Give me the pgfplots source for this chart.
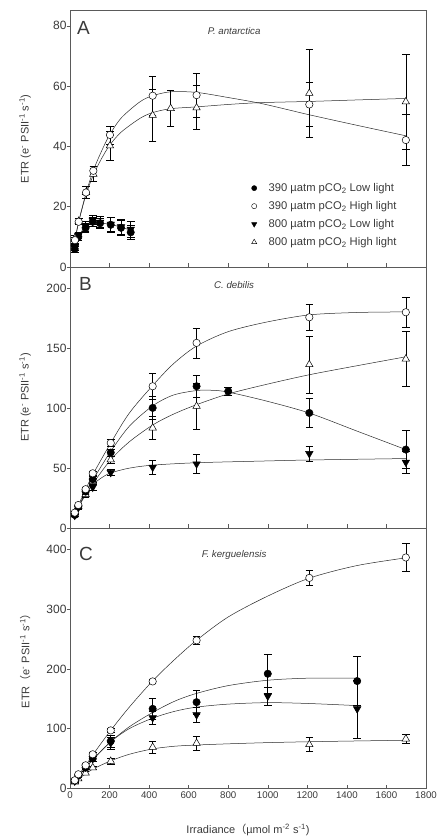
\documentclass[border=0pt]{standalone}
\usepackage{fontspec}
\setmainfont{Liberation Sans}
\newfontfamily\cjk{Noto Sans CJK SC}
\usepackage{pgfplots}
\pgfplotsset{compat=1.18}
\definecolor{framegray}{HTML}{5A5A5A}
\definecolor{textgray}{HTML}{3A3A3A}
\definecolor{curvecol}{HTML}{2A2A2A}
\pgfplotsset{
  panel/.style={scale only axis, width=356pt, xmin=0, xmax=1800,
    xtick={0,200,...,1800}, xtick pos=bottom, ytick pos=left,
    tick align=inside, major tick length=3.5pt,
    ytick style={xshift=-3.5pt},
    axis line style={draw=framegray, line width=0.6pt},
    tick style={framegray, line width=0.5pt},
    yticklabel style={font=\fontsize{12}{14}\selectfont, text=textgray},
    xticklabel style={font=\fontsize{9.7}{12}\selectfont, text=textgray},
    label style={font=\fontsize{11}{13}\selectfont, text=textgray},
    /pgf/number format/assume math mode=true,
    /pgf/number format/set thousands separator={},
    ylabel style={at={(axis description cs:-0.126,0.5)}, anchor=center},
  },
  cv/.style={no marks, smooth, tension=0.5, line width=0.5pt, curvecol, forget plot},
  s1/.style={only marks, forget plot, mark=*, mark size=3.7pt, mark options={draw=black, fill=black, line width=0.5pt}},
  s2/.style={only marks, forget plot, mark=*, mark size=3.7pt, mark options={draw=black, fill=white, line width=0.5pt}},
  s3/.style={only marks, forget plot, mark=triangle*, mark size=4.3pt, mark options={draw=black, fill=black, line width=0.5pt, rotate=180}},
  s4/.style={only marks, forget plot, mark=triangle*, mark size=4.3pt, mark options={draw=black, fill=white, line width=0.5pt}},
  eb/.style={/pgfplots/error bars/y dir=both, /pgfplots/error bars/y explicit,
    /pgfplots/error bars/error bar style={line width=0.6pt, black},
    /pgfplots/error bars/error mark options={rotate=90, mark size=3.8pt, line width=0.6pt, black}},
}
\newcommand{\panellabel}[1]{{\fontsize{19}{21}\selectfont\color{textgray}#1}}
\newcommand{\species}[1]{{\fontsize{9.7}{11}\selectfont\itshape\color{textgray}#1}}
\begin{document}
\begin{tikzpicture}
\path[use as bounding box] (0,0) rectangle (445pt,837pt);
% ---------------- Panel A ----------------
\begin{axis}[panel, at={(70pt,570pt)}, anchor=south west, height=256.3pt,
  ymin=0, ymax=85, ytick={0,20,...,80}, xticklabels={},
  ylabel={ETR (e\textsuperscript{-} PSII\textsuperscript{-1} s\textsuperscript{-1})},
  legend image code/.code={\path[draw=none, fill=none] (-6pt,0pt) (12.5pt,0pt); \draw[#1] plot coordinates {(0pt,0pt)};},
  legend style={draw=none, fill=none, at={(axis description cs:0.5,0.335)}, anchor=north west,
    font=\fontsize{11.2}{12}\selectfont, text=textgray, row sep=4.4pt, inner sep=0pt},
  legend cell align=left]
\addplot[cv] coordinates {(24,6)(42,10)(79,13.5)(115,14.6)(152,14.6)(206,14.1)(258,13.2)(307,12.2)};
\addplot[cv] coordinates {(25,8.5)(44,15)(81,24.5)(118,32)(160,38.5)(202,44)(260,49.5)(354,54.8)(418,56.8)(509,58.1)(640,57.9)(800,56.2)(961,54.3)(1112,52)(1208,50.5)(1450,47)(1699,43.5)};
\addplot[cv] coordinates {(25,9)(44,15)(81,24)(118,30.5)(160,36)(202,40.5)(260,44.8)(354,49.3)(418,51.2)(509,52.5)(640,53.1)(800,53.9)(961,54.5)(1208,54.9)(1450,55.4)(1699,55.9)};
\addplot[s3, eb] coordinates {(24,6.5)+-(0,1)(42,10.5)+-(0,1)(79,13.5)+-(0,1.5)(115,15.5)+-(0,1.5)(152,14.8)+-(0,2)(206,14.2)+-(0,2.3)(258,13.3)+-(0,2.5)(307,12.5)+-(0,2.5)};
\addplot[s1, eb] coordinates {(24,6)+-(0,1)(42,10)+-(0,1)(79,13)+-(0,1.5)(115,15)+-(0,1.5)(152,14.5)+-(0,1.5)(206,14)+-(0,2.5)(258,13)+-(0,2.5)(307,11.5)+-(0,2.3)};
\addplot[s4, eb] coordinates {(25,9.5)+-(0,1)(44,15.2)+-(0,1)(81,24.7)+-(0,2)(118,30.8)+-(0,2.5)(202,40.2)+-(0,4.8)(418,50.3)+-(0,8.6)(509,52.6)+-(0,5.9)(640,52.8)+-(0,7.3)(1210,57.6)+-(0,14.7)(1698,54.8)+-(0,15.7)};
\addplot[s2, eb] coordinates {(25,8.9)+-(0,1)(44,15)+-(0,1)(81,24.7)+-(0,2)(118,31.9)+-(0,1.5)(202,43.8)+-(0,3)(418,56.8)+-(0,6.5)(640,57)+-(0,7.2)(1210,53.9)+-(0,7.2)(1698,42.1)+-(0,8.5)};
\addlegendimage{only marks, mark=*, mark size=2.6pt, mark options={draw=black, fill=black}}
\addlegendentry{390 µatm pCO\textsubscript{2} Low light}
\addlegendimage{only marks, mark=*, mark size=2.6pt, mark options={draw=black, fill=white}}
\addlegendentry{390 µatm pCO\textsubscript{2} High light}
\addlegendimage{only marks, mark=triangle*, mark size=3pt, mark options={draw=black, fill=black, rotate=180}}
\addlegendentry{800 µatm pCO\textsubscript{2} Low light}
\addlegendimage{only marks, mark=triangle*, mark size=3pt, mark options={draw=black, fill=white}}
\addlegendentry{800 µatm pCO\textsubscript{2} High light}
\node[anchor=north west, inner sep=0pt] at (axis description cs:0.0197,0.957) {\panellabel{A}};
\node[anchor=center, inner sep=0pt] at (axis description cs:0.461,0.922) {\species{P. antarctica}};
\end{axis}
% ---------------- Panel B ----------------
\begin{axis}[panel, at={(70pt,309pt)}, anchor=south west, height=261pt,
  ymin=0, ymax=218, ytick={0,50,...,200}, xticklabels={},
  ylabel={ETR (e\textsuperscript{-} PSII\textsuperscript{-1} s\textsuperscript{-1})}]
\addplot[cv] coordinates {(24,12)(42,19)(79,32)(115,44.5)(206,71)(300,96)(418,119)(522,137)(640,152)(800,164)(994,172)(1210,178)(1450,180)(1698,180.5)};
\addplot[cv] coordinates {(24,11)(42,17.5)(79,30)(115,40)(206,64)(300,85)(418,102)(522,111)(640,114.8)(720,115)(800,113.5)(994,106)(1210,96)(1450,81)(1698,65.5)};
\addplot[cv] coordinates {(24,11)(42,17.5)(79,28.5)(115,37)(206,57)(300,72)(418,86)(522,95)(640,103)(800,112)(994,120)(1210,128)(1450,135.5)(1698,143)};
\addplot[cv] coordinates {(24,11)(42,17)(79,28)(115,36)(160,42)(206,46)(300,50)(418,52.5)(640,54.5)(994,56)(1210,56.8)(1698,58)};
\addplot[s3, eb] coordinates {(24,10.5)+-(0,1)(42,17)+-(0,1)(79,30)+-(0,2)(115,34)+-(0,2.5)(206,46.3)+-(0,2.5)(418,50.7)+-(0,6)(640,53.5)+-(0,8)(1210,62.1)+-(0,6.5)(1698,54.9)+-(0,9.5)};
\addplot[s4, eb] coordinates {(24,11)+-(0,1)(42,18)+-(0,1)(79,28)+-(0,2)(115,38.8)+-(0,2.5)(206,57)+-(0,3)(418,83.6)+-(0,9.5)(640,101.7)+-(0,19)(1210,136.5)+-(0,24)(1698,141.2)+-(0,23)};
\addplot[s1, eb] coordinates {(24,10.9)+-(0,1)(42,17.9)+-(0,1)(79,30.4)+-(0,2)(115,40.7)+-(0,2.5)(206,63)+-(0,3)(418,100.3)+-(0,9.7)(640,118.4)+-(0,9)(800,114.2)+-(0,3)(1210,96.1)+-(0,12)(1698,65.5)+-(0,16)};
\addplot[s2, eb] coordinates {(24,12.8)+-(0,1)(42,19.2)+-(0,1)(79,32.4)+-(0,2)(115,45.7)+-(0,2)(206,71)+-(0,3)(418,118.4)+-(0,11)(640,154.6)+-(0,12.5)(1210,176)+-(0,11)(1698,180.2)+-(0,12.5)};
\node[anchor=north west, inner sep=0pt] at (axis description cs:0.025,0.962) {\panellabel{B}};
\node[anchor=center, inner sep=0pt] at (axis description cs:0.461,0.931) {\species{C. debilis}};
\end{axis}
% ---------------- Panel C ----------------
\begin{axis}[panel, at={(70pt,48.7pt)}, anchor=south west, height=260.3pt,
  ymin=0, ymax=436, ytick={0,100,...,400},
  ylabel={ETR{\cjk （}e\textsuperscript{-} PSII\textsuperscript{-1} s\textsuperscript{-1}{\cjk ）}},
  xlabel={Irradiance{\cjk （}µmol m\textsuperscript{-2} s\textsuperscript{-1})},
  xlabel style={at={(axis description cs:0.5,-0.16)}, anchor=center}]
\addplot[cv] coordinates {(24,13)(42,22)(79,38)(115,56)(206,97)(300,136)(418,180)(530,216)(640,248)(800,287)(1000,322)(1210,352)(1450,373)(1698,386)};
\addplot[cv] coordinates {(24,12)(42,20)(79,34)(115,48)(206,78)(300,103)(418,127)(530,146)(640,159)(800,172)(1000,181)(1210,184.5)(1452,184.5)};
\addplot[cv] coordinates {(24,12)(42,20)(79,34)(115,48)(206,78)(300,100)(418,117.5)(530,129)(640,136)(800,141)(1000,143.5)(1210,142)(1452,138.5)};
\addplot[cv] coordinates {(24,10)(42,15.5)(79,24)(115,32)(206,46)(300,57)(418,66)(530,70.5)(640,72.5)(800,74.5)(1000,76.5)(1210,78)(1450,79.3)(1698,80.5)};
\addplot[s4, eb] coordinates {(24,10.6)+-(0,2)(42,16)+-(0,2)(79,25.7)+-(0,3)(115,34.6)+-(0,3)(206,45.3)+-(0,5)(418,68.8)+-(0,10)(640,75.5)+-(0,12)(1210,73.3)+-(0,12)(1698,82.8)+-(0,8)};
\addplot[s3, eb] coordinates {(24,12)+-(0,2)(42,20)+-(0,2)(79,35.7)+-(0,3)(115,50)+-(0,4)(206,76)+-(0,10)(418,118)+-(0,11)(640,123)+-(0,13)(1000,154.4)+-(0,15)(1452,133)+-(0,48.5)};
\addplot[s1, eb] coordinates {(24,13)+-(0,2)(42,21.8)+-(0,2)(79,34.6)+-(0,3)(115,49.7)+-(0,4)(206,79)+-(0,10)(418,133.1)+-(0,17)(640,144.3)+-(0,20)(1000,191.9)+-(0,33)(1452,179.6)+-(0,41)};
\addplot[s2, eb] coordinates {(24,13.4)+-(0,2)(42,23.5)+-(0,2)(79,38.5)+-(0,3)(115,57)+-(0,3)(206,97)+-(0,3)(418,179)+-(0,3)(640,247.8)+-(0,7)(1210,352.4)+-(0,12)(1698,386.6)+-(0,23.5)};
\node[anchor=north west, inner sep=0pt] at (axis description cs:0.025,0.927) {\panellabel{C}};
\node[anchor=center, inner sep=0pt] at (axis description cs:0.461,0.896) {\species{F. kerguelensis}};
\end{axis}
\end{tikzpicture}
\end{document}
